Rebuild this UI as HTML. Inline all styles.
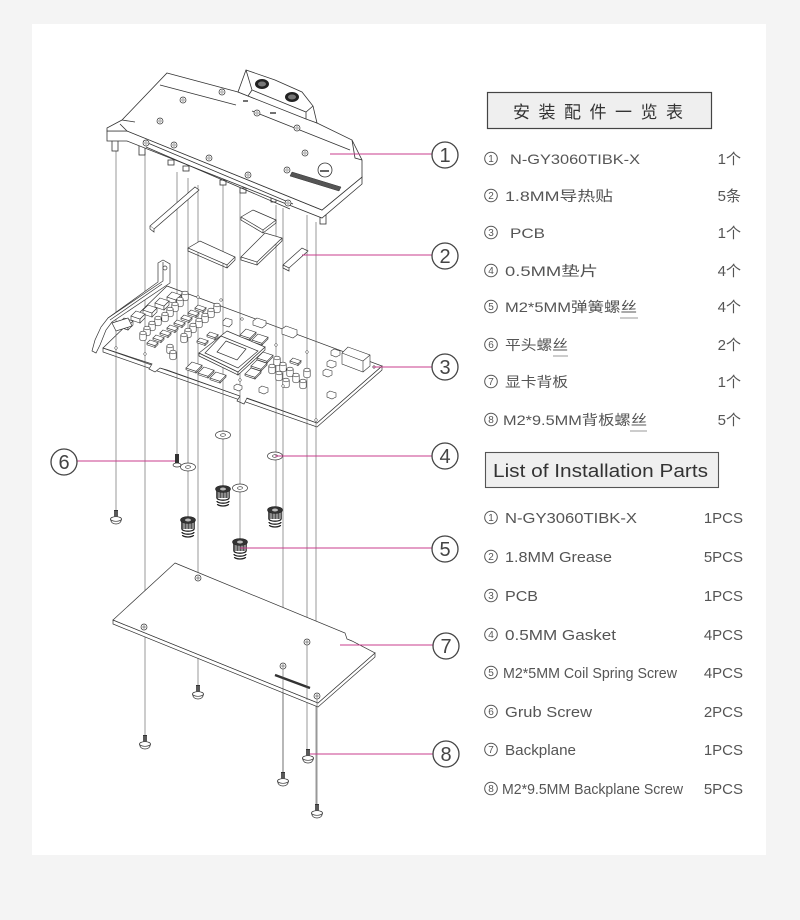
<!DOCTYPE html>
<html><head><meta charset="utf-8"><style>
html,body{margin:0;padding:0;background:#f4f4f4;}
svg{display:block;}
.t{font-family:"Liberation Sans","Noto Sans CJK SC",sans-serif;fill:#555;}
</style></head><body>
<svg width="800" height="920" viewBox="0 0 800 920" xmlns="http://www.w3.org/2000/svg">
<defs>
<g id="cap"><path d="M-3.2,0 v6 a3.2,1.8 0 0 0 6.4,0 v-6" fill="#fff" stroke="#333" stroke-width=".6"/><ellipse cx="0" cy="0" rx="3.2" ry="1.8" fill="#fff" stroke="#333" stroke-width=".6"/></g>
<g id="chk" fill="#fff" stroke="#333" stroke-width=".6"><polygon points="-5,5 4,8 4,12 -5,9"/><polygon points="4,8 9,3 9,7 4,12"/><polygon points="0,0 9,3 4,8 -5,5"/></g>
<g id="mos" fill="#fff" stroke="#333" stroke-width=".6"><polygon points="-3,3 5,5.7 5,7.5 -3,4.8"/><polygon points="5,5.7 8,2.7 8,4.5 5,7.5"/><polygon points="0,0 8,2.7 5,5.7 -3,3"/></g>
<g id="mem" fill="#fff" stroke="#333" stroke-width=".6"><polygon points="-6,6 4,9.3 4,11 -6,7.7"/><polygon points="4,9.3 10,3.3 10,5 4,11"/><polygon points="0,0 10,3.3 4,9.3 -6,6"/></g>
<g id="scr"><rect x="-2" y="0" width="4" height="8" fill="#333"/><path d="M-2,2h4M-2,4h4M-2,6h4" stroke="#ccc" stroke-width=".6"/><path d="M-5.5,9 Q-5,14 0,14 Q5,14 5.5,9" fill="#fff" stroke="#333" stroke-width=".7"/><ellipse cx="0" cy="9" rx="5.5" ry="2.3" fill="#fff" stroke="#333" stroke-width=".7"/></g>
<g id="spr"><path d="M-6,3 a6,2.2 0 0 0 12,0 M-6,6 a6,2.2 0 0 0 12,0 M-5.5,9 a5.5,2 0 0 0 11,0" fill="none" stroke="#222" stroke-width="1.3"/><rect x="-7" y="-6" width="14" height="9" fill="#555"/><path d="M-4,-6v9M-1,-6v9M2,-6v9M5,-6v9" stroke="#ddd" stroke-width=".8"/><ellipse cx="0" cy="-6" rx="7.5" ry="3.5" fill="#333" stroke="#222" stroke-width=".6"/><ellipse cx="0" cy="-6" rx="3" ry="1.5" fill="#bbb"/></g>
<g id="wsh"><ellipse cx="0" cy="0" rx="7.5" ry="4" fill="#fff" stroke="#333" stroke-width=".7"/><ellipse cx="0" cy="0" rx="2.5" ry="1.3" fill="#fff" stroke="#333" stroke-width=".6"/></g>
<g id="hole"><circle r="3" fill="#fff" stroke="#333" stroke-width=".7"/><circle r="1.2" fill="none" stroke="#333" stroke-width=".5"/></g>
<g id="nut"><circle r="3" fill="#fff" stroke="#333" stroke-width=".7"/><path d="M-2,0h4M0,-2v4" stroke="#333" stroke-width=".5"/></g>
</defs>

<rect x="0" y="0" width="800" height="920" fill="#f4f4f4"/>
<rect x="32" y="24" width="734" height="831" fill="#fff"/>

<!-- ===== PCB ===== -->
<g stroke="#333" stroke-width=".7" fill="#fff">
<polygon points="103,348 103,352 317,427 382,370 382,366 317,423"/>
<polygon points="167,286 382,366 317,423 247,398 244,404 237,401 240,396 167,370 160,368 155,372 149,369 152,364 103,348"/>
</g>

<!-- guide lines -->
<g stroke="#555" stroke-width=".6" fill="none">
<path d="M116 148V510M145 152V735M177 172V454M188 178V518M198 185V578M198 658V685M223 185V486M240 190V540M276 205V507M283 208V772M307 215V749M316 222V804"/>
</g>

<!-- PCB components -->
<g>
<use href="#chk" x="172" y="292"/><use href="#chk" x="160" y="298"/><use href="#chk" x="148" y="305"/><use href="#chk" x="136" y="311"/><use href="#chk" x="124" y="318"/>
<use href="#cap" x="185" y="293"/><use href="#cap" x="180" y="299"/><use href="#cap" x="175" y="304"/><use href="#cap" x="170" y="309"/><use href="#cap" x="165" y="314"/><use href="#cap" x="158" y="318"/><use href="#cap" x="152" y="323"/><use href="#cap" x="147" y="328"/><use href="#cap" x="143" y="333"/>
<use href="#mos" x="198" y="305"/><use href="#mos" x="191" y="310"/><use href="#mos" x="184" y="315"/><use href="#mos" x="177" y="320"/><use href="#mos" x="170" y="325"/><use href="#mos" x="163" y="330"/><use href="#mos" x="156" y="335"/><use href="#mos" x="150" y="340"/>
<use href="#cap" x="217" y="305"/><use href="#cap" x="211" y="310"/><use href="#cap" x="205" y="315"/><use href="#cap" x="199" y="320"/><use href="#cap" x="193" y="325"/><use href="#cap" x="188" y="330"/><use href="#cap" x="184" y="335"/><use href="#cap" x="170" y="346"/><use href="#cap" x="173" y="352"/>
<use href="#mos" x="210" y="332"/><use href="#mos" x="200" y="338"/>
<!-- GPU -->
<g stroke="#333" stroke-width=".7" fill="#fff">
<polygon points="199,353 238,372 238,375 199,356"/><polygon points="238,372 265,347 265,350 238,375"/>
<polygon points="227,331 265,347 238,372 199,353"/>
<polygon points="221,336 258,351 238,368 205,353" fill="none"/>
<polygon points="226,341 246,349 237,360 217,352"/>
</g>
<use href="#mem" x="192" y="362"/><use href="#mem" x="204" y="367"/><use href="#mem" x="216" y="372"/>
<use href="#mem" x="246" y="329"/><use href="#mem" x="258" y="334"/>
<use href="#mem" x="263" y="352"/><use href="#mem" x="257" y="360"/><use href="#mem" x="251" y="368"/>
<g fill="#fff" stroke="#333" stroke-width=".6">
<polygon points="226,318 232,320 232,324 229,327 223,325 223,321"/>
<polygon points="257,318 266,321 266,325 262,328 253,325 253,321"/>
<polygon points="286,326 297,330 297,335 293,338 282,334 282,329"/>
<polygon points="348,347 370,355 370,366 363,372 342,364 342,353"/><path d="M342,353 L363,361 L370,355 M363,361 V372" fill="none"/>
<polygon points="334,349 340,351 340,355 336,357 331,355 331,351"/>
<polygon points="330,360 336,362 336,366 332,368 327,366 327,362"/>
<polygon points="326,369 332,371 332,375 328,377 323,375 323,371"/>
<polygon points="237,384 242,386 242,389 239,391 234,389 234,386"/>
<polygon points="262,386 268,388 268,392 264,394 259,392 259,388"/>
<polygon points="330,391 336,393 336,397 332,399 327,397 327,393"/>
</g>
<use href="#cap" x="277" y="358"/><use href="#cap" x="283" y="364"/><use href="#cap" x="272" y="366"/><use href="#cap" x="290" y="369"/><use href="#cap" x="279" y="373"/><use href="#cap" x="296" y="375"/><use href="#cap" x="286" y="380"/><use href="#cap" x="303" y="381"/><use href="#cap" x="307" y="370"/>
<use href="#mos" x="293" y="358"/>
<g fill="#fff" stroke="#333" stroke-width=".5"><circle cx="198" cy="297" r="1.3"/><circle cx="221" cy="300" r="1.3"/><circle cx="242" cy="319" r="1.3"/><circle cx="276" cy="345" r="1.3"/><circle cx="307" cy="352" r="1.3"/><circle cx="145" cy="354" r="1.3"/><circle cx="116" cy="348" r="1.3"/><circle cx="240" cy="380" r="1.3"/><circle cx="283" cy="386" r="1.3"/><circle cx="316" cy="420" r="1.3"/><circle cx="374" cy="367" r="1.3"/></g>
</g>

<!-- bracket -->
<g stroke="#333" stroke-width=".7" fill="#fff">
<polygon points="158,263 163,260 170,264 170,283 112,322 106,330 100,345 96,353 92,351 95,340 101,327 108,318 158,282"/>
<path d="M163,262 V281 L108,318 M162,284 L110,320" fill="none"/>
<circle cx="165" cy="268" r="2"/>
<polygon points="112,323 128,318 132,326 116,331"/>
</g>

<!-- thermal pads -->
<g stroke="#333" stroke-width=".7" fill="#fff">
<polygon points="150,226 195,187 199,190 154,229"/><path d="M154,229 L154,232 L150,229 L150,226" />
<polygon points="188,248 200,241 235,257 227,265"/><path d="M188,248 V251 L227,268 V265 M227,268 L235,260 V257" fill="none"/>
<polygon points="241,217 253,210 276,220 263,230"/><path d="M241,217 V220 L263,233 V230 M263,233 L276,223 V220" fill="none"/>
<polygon points="241,257 265,233 282,238 257,262"/><path d="M241,257 V260 L257,265 V262 M257,265 L282,241 V238" fill="none"/>
<polygon points="283,265 302,248 308,251 289,268"/><path d="M283,265 V268 L289,271 V268" fill="none"/>
</g>

<!-- ===== COOLER ===== -->
<g stroke="#333" stroke-width=".8" fill="#fff">
<rect x="112" y="140" width="6" height="11"/><rect x="139" y="144" width="6" height="11"/><rect x="320" y="215" width="6" height="9"/>
<rect x="168" y="160" width="6" height="5"/><rect x="183" y="166" width="6" height="5"/><rect x="220" y="180" width="6" height="5"/><rect x="240" y="188" width="6" height="5"/><rect x="271" y="196" width="5" height="6"/>
<polygon points="107,131 127,131 322,210 362,177 362,184 322,218 127,141 107,141"/>
<polygon points="167,73 238,92 248,96 306,118 317,123 352,140 362,160 362,177 322,210 127,131 107,131 107,128 122,120"/>
<path d="M160,85 L236,105 M252,111 L350,150 M122,120 L135,122 M352,140 L355,158 L362,160 M127,131 L120,124" fill="none"/>
<path d="M143,141 L293,204 M146,147 L290,209" fill="none"/>
<polygon points="238,92 246,70 275,80 302,92 313,106 317,123 306,119 248,96"/>
<path d="M246,70 L252,90 L306,112 L313,106 M252,90 L248,96 M306,112 L306,119" fill="none"/>
</g>
<ellipse cx="262" cy="84" rx="7" ry="5" fill="#222"/><ellipse cx="262" cy="84" rx="4" ry="2.5" fill="#777"/>
<ellipse cx="292" cy="97" rx="7" ry="5" fill="#222"/><ellipse cx="292" cy="97" rx="4" ry="2.5" fill="#777"/>
<g><use href="#hole" x="183" y="100"/><use href="#hole" x="222" y="92"/><use href="#hole" x="160" y="121"/><use href="#hole" x="257" y="113"/><use href="#hole" x="297" y="128"/><use href="#hole" x="174" y="145"/><use href="#hole" x="209" y="158"/><use href="#hole" x="248" y="175"/><use href="#hole" x="305" y="153"/><use href="#hole" x="287" y="170"/><use href="#hole" x="146" y="143"/><use href="#hole" x="288" y="203"/></g>
<circle cx="325" cy="170" r="7" fill="#fff" stroke="#333" stroke-width=".8"/><path d="M320,171 h9" stroke="#333" stroke-width="1.5"/>
<polygon points="292,172 341,187 339,191 290,176" fill="#555" stroke="#333" stroke-width=".5"/>
<path d="M243,101 h5 M270,113 h6" stroke="#444" stroke-width="1.5"/>

<!-- ===== hardware ===== -->
<use href="#wsh" x="223" y="435"/><use href="#wsh" x="275" y="456"/><use href="#wsh" x="188" y="467"/><use href="#wsh" x="240" y="488"/>
<g><rect x="175" y="454" width="4" height="9" fill="#333"/><ellipse cx="177" cy="465" rx="4" ry="2" fill="#fff" stroke="#333" stroke-width=".7"/></g>
<use href="#spr" x="223" y="495"/><use href="#spr" x="275" y="516"/><use href="#spr" x="188" y="526"/><use href="#spr" x="240" y="548"/>

<!-- backplate -->
<g stroke="#333" stroke-width=".7" fill="#fff">
<polygon points="113,620 113,624 318,707 375,657 375,653 318,703"/>
<polygon points="175,563 345,633 347,639 352,641 375,653 318,703 113,620"/>
</g>
<path d="M275,675 L310,688" stroke="#333" stroke-width="2.5"/>
<use href="#nut" x="198" y="578"/><use href="#nut" x="144" y="627"/><use href="#nut" x="307" y="642"/><use href="#nut" x="283" y="666"/><use href="#nut" x="317" y="696"/>
<g stroke="#555" stroke-width=".6"><path d="M283,669V772M317,699V804M307,645V700"/></g>

<use href="#scr" x="116" y="510"/><use href="#scr" x="145" y="735"/><use href="#scr" x="198" y="685"/><use href="#scr" x="283" y="772"/><use href="#scr" x="308" y="749"/><use href="#scr" x="317" y="804"/>

<!-- ===== callouts ===== -->
<g stroke="#c83c8c" stroke-width="1.1">
<path d="M330,154H432M302,255H432M373,367H432M275,456H432M240,548H432M77,461H175M340,645H433M310,754H433"/>
</g>
<g fill="#fff" stroke="#444" stroke-width="1.3">
<circle cx="445" cy="155" r="13"/><circle cx="445" cy="256" r="13"/><circle cx="445" cy="367" r="13"/><circle cx="445" cy="456" r="13"/><circle cx="445" cy="549" r="13"/><circle cx="64" cy="462" r="13"/><circle cx="446" cy="646" r="13"/><circle cx="446" cy="754" r="13"/>
</g>
<g class="t" font-size="20" text-anchor="middle" style="fill:#444">
<text x="445" y="162">1</text><text x="445" y="263">2</text><text x="445" y="374">3</text><text x="445" y="463">4</text><text x="445" y="556">5</text><text x="64" y="469">6</text><text x="446" y="653">7</text><text x="446" y="761">8</text>
</g>

<!-- small circled numbers for lists -->
<g fill="none" stroke="#555" stroke-width="1">
<circle cx="491" cy="158.5" r="6.3"/><circle cx="491" cy="195.5" r="6.3"/><circle cx="491" cy="232.5" r="6.3"/><circle cx="491" cy="270.5" r="6.3"/><circle cx="491" cy="306.5" r="6.3"/><circle cx="491" cy="344.5" r="6.3"/><circle cx="491" cy="381.5" r="6.3"/><circle cx="491" cy="419.5" r="6.3"/>
<circle cx="491" cy="517.5" r="6.3"/><circle cx="491" cy="556.5" r="6.3"/><circle cx="491" cy="595.5" r="6.3"/><circle cx="491" cy="634.5" r="6.3"/><circle cx="491" cy="672.5" r="6.3"/><circle cx="491" cy="711.5" r="6.3"/><circle cx="491" cy="749.5" r="6.3"/><circle cx="491" cy="788.5" r="6.3"/>
</g>
<g class="t" font-size="10" text-anchor="middle">
<text x="491" y="162">1</text><text x="491" y="199">2</text><text x="491" y="236">3</text><text x="491" y="274">4</text><text x="491" y="310">5</text><text x="491" y="348">6</text><text x="491" y="385">7</text><text x="491" y="423">8</text>
<text x="491" y="521">1</text><text x="491" y="560">2</text><text x="491" y="599">3</text><text x="491" y="638">4</text><text x="491" y="676">5</text><text x="491" y="715">6</text><text x="491" y="753">7</text><text x="491" y="792">8</text>
</g>

<!-- ===== Chinese list ===== -->
<rect x="487.5" y="92.5" width="224" height="36" fill="#efefef" stroke="#444" stroke-width="1.2"/>
<text class="t" x="513" y="118" font-size="17" textLength="170" lengthAdjust="spacing" style="fill:#333">安 装 配 件 一 览 表</text>
<g class="t" font-size="14">
<text x="510" y="164" textLength="130" lengthAdjust="spacingAndGlyphs">N-GY3060TIBK-X</text>
<text x="505" y="201" textLength="108" lengthAdjust="spacingAndGlyphs">1.8MM导热贴</text>
<text x="510" y="238" textLength="35" lengthAdjust="spacingAndGlyphs">PCB</text>
<text x="505" y="276" textLength="93" lengthAdjust="spacingAndGlyphs">0.5MM垫片</text>
<text x="505" y="312" textLength="132" lengthAdjust="spacingAndGlyphs">M2*5MM弹簧螺丝</text>
<text x="505" y="350" textLength="63" lengthAdjust="spacingAndGlyphs">平头螺丝</text>
<text x="505" y="387" textLength="63" lengthAdjust="spacingAndGlyphs">显卡背板</text>
<text x="503" y="425" textLength="144" lengthAdjust="spacingAndGlyphs">M2*9.5MM背板螺丝</text>
<g font-size="15" text-anchor="end">
<text x="741" y="164">1个</text><text x="741" y="201">5条</text><text x="741" y="238">1个</text><text x="741" y="276">4个</text><text x="741" y="312">4个</text><text x="741" y="350">2个</text><text x="741" y="387">1个</text><text x="741" y="425">5个</text>
</g>
</g>
<g stroke="#777" stroke-width=".8"><path d="M620,318h18M553,356h15M630,431h17"/></g>

<!-- ===== English list ===== -->
<rect x="485.5" y="452.5" width="233" height="35" fill="#efefef" stroke="#555" stroke-width="1.1"/>
<text class="t" x="493" y="477" font-size="18" textLength="215" lengthAdjust="spacingAndGlyphs" style="fill:#333">List of Installation Parts</text>
<g class="t" font-size="15">
<text x="505" y="523" textLength="132" lengthAdjust="spacingAndGlyphs">N-GY3060TIBK-X</text><text x="743" y="523" text-anchor="end">1PCS</text>
<text x="505" y="562" textLength="107" lengthAdjust="spacingAndGlyphs">1.8MM Grease</text><text x="743" y="562" text-anchor="end">5PCS</text>
<text x="505" y="601" textLength="33" lengthAdjust="spacingAndGlyphs">PCB</text><text x="743" y="601" text-anchor="end">1PCS</text>
<text x="505" y="640" textLength="111" lengthAdjust="spacingAndGlyphs">0.5MM Gasket</text><text x="743" y="640" text-anchor="end">4PCS</text>
<text x="503" y="678" textLength="174" lengthAdjust="spacingAndGlyphs">M2*5MM Coil Spring Screw</text><text x="743" y="678" text-anchor="end">4PCS</text>
<text x="505" y="717" textLength="87" lengthAdjust="spacingAndGlyphs">Grub  Screw</text><text x="743" y="717" text-anchor="end">2PCS</text>
<text x="505" y="755" textLength="71" lengthAdjust="spacingAndGlyphs">Backplane</text><text x="743" y="755" text-anchor="end">1PCS</text>
<text x="502" y="794" textLength="181" lengthAdjust="spacingAndGlyphs">M2*9.5MM Backplane Screw</text><text x="743" y="794" text-anchor="end">5PCS</text>
</g>
</svg>
</body></html>
